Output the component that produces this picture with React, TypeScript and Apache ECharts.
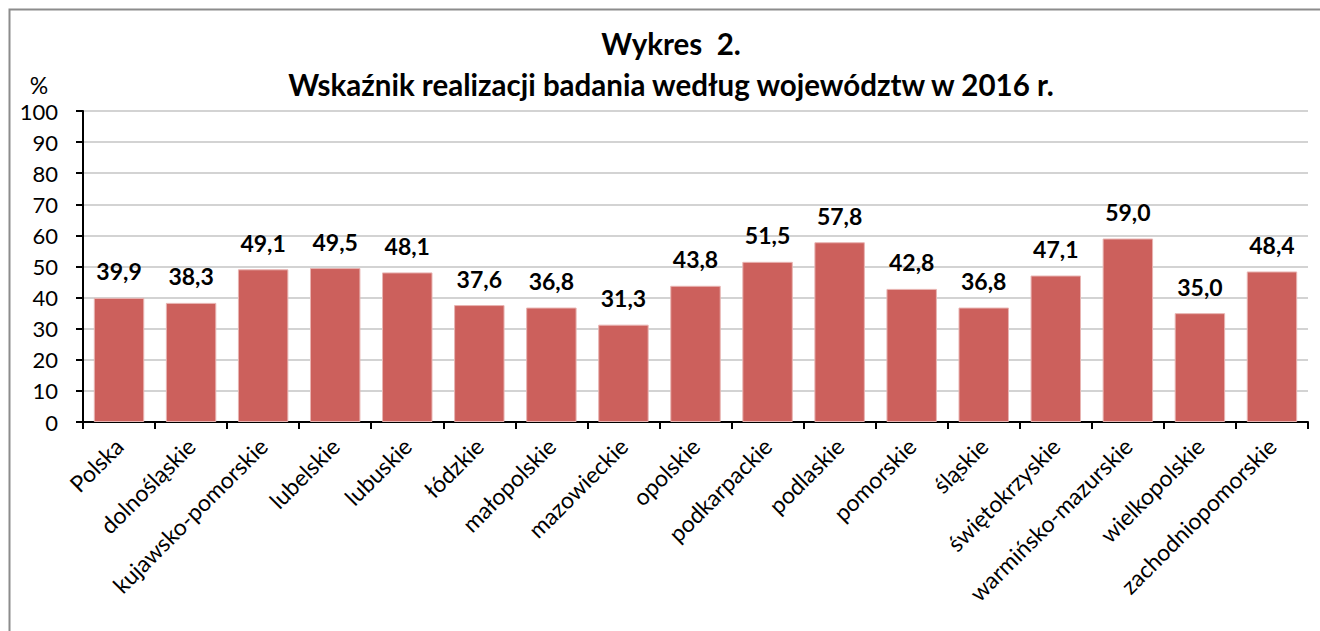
import React, { useEffect, useRef } from "react";
import * as echarts from "echarts";

const categories = [
  "Polska", "dolnośląskie", "kujawsko-pomorskie", "lubelskie", "lubuskie", "łódzkie",
  "małopolskie", "mazowieckie", "opolskie", "podkarpackie", "podlaskie", "pomorskie",
  "śląskie", "świętokrzyskie", "warmińsko-mazurskie", "wielkopolskie", "zachodniopomorskie",
];
const values = [39.9, 38.3, 49.1, 49.5, 48.1, 37.6, 36.8, 31.3, 43.8, 51.5, 57.8, 42.8, 36.8, 47.1, 59.0, 35.0, 48.4];
const titleLines = ["Wykres  2.", "Wskaźnik realizacji badania według województw w 2016 r."];
const unitLabel = "%";

const FONT = "Lato, 'Open Sans', sans-serif";

export default function App() {
  const ref = useRef<HTMLDivElement>(null);
  useEffect(() => {
    if (!ref.current) return;
    const chart = echarts.init(ref.current, null, { renderer: "svg" });
    chart.setOption({
      animation: false,
      backgroundColor: "#ffffff",
      graphic: [
        {
          type: "rect",
          shape: { x: 9.5, y: 9.5, width: 1330, height: 640 },
          style: { fill: "none", stroke: "#8c8c8c", lineWidth: 2 },
          silent: true,
        },
        {
          type: "text",
          x: 671,
          y: 43,
          style: {
            text: titleLines[0],
            fontFamily: FONT,
            fontSize: 29.5,
            fontWeight: "bold",
            fill: "#000",
            textAlign: "center",
            textVerticalAlign: "middle",
          },
        },
        {
          type: "text",
          x: 671,
          y: 84,
          style: {
            text: titleLines[1],
            fontFamily: FONT,
            fontSize: 29.5,
            fontWeight: "bold",
            fill: "#000",
            textAlign: "center",
            textVerticalAlign: "middle",
          },
        },
        {
          type: "text",
          x: 39,
          y: 85,
          style: {
            text: unitLabel,
            fontFamily: FONT,
            fontSize: 23,
            fill: "#000",
            textAlign: "center",
            textVerticalAlign: "middle",
          },
        },
      ],
      grid: { left: 83, right: 12, top: 111, bottom: 209, containLabel: false },
      xAxis: {
        type: "category",
        data: categories,
        axisLine: { lineStyle: { color: "#000", width: 2 } },
        axisTick: { show: true, length: 7, lineStyle: { color: "#000", width: 2 } },
        axisLabel: {
          rotate: 45,
          interval: 0,
          margin: 20,
          fontFamily: FONT,
          fontSize: 23,
          color: "#000",
        },
      },
      yAxis: {
        type: "value",
        min: 0,
        max: 100,
        interval: 10,
        axisLine: { show: true, lineStyle: { color: "#000", width: 2 } },
        axisTick: { show: true, length: 7, lineStyle: { color: "#000", width: 2 } },
        axisLabel: { margin: 25, fontFamily: FONT, fontSize: 22, color: "#000" },
        splitLine: { lineStyle: { color: "#c4c4c4", width: 1.5 } },
      },
      series: [
        {
          type: "bar",
          data: values,
          barCategoryGap: "30%",
          itemStyle: { color: "#cc605c", borderColor: "#e8b4b2", borderWidth: 1 },
          label: {
            show: true,
            position: "top",
            distance: 15,
            fontFamily: FONT,
            fontSize: 23,
            fontWeight: "bold",
            color: "#000",
            formatter: (p: any) => p.value.toFixed(1).replace(".", ","),
          },
        },
      ],
    });
    return () => chart.dispose();
  }, []);
  return (
    <div
      ref={ref}
      style={{ position: "fixed", left: 0, top: 0, width: 1320, height: 631 }}
    />
  );
}
